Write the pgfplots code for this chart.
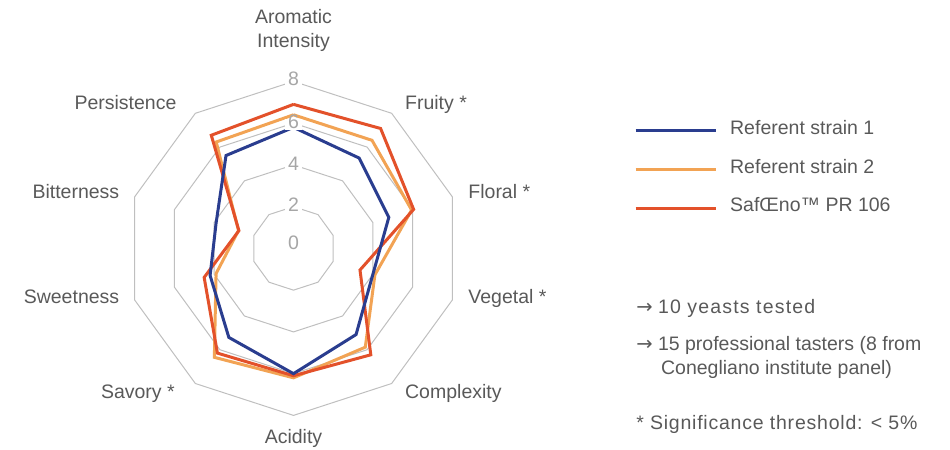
\documentclass[border=0pt]{standalone}
\usepackage{pgfplots}
\pgfplotsset{compat=1.18}
\usepackage{fontspec}
\setmainfont{Liberation Sans}
\newfontfamily\symfont{DejaVu Sans}
\definecolor{refblue}{RGB}{42,61,143}
\definecolor{reforange}{RGB}{242,163,84}
\definecolor{refred}{RGB}{227,81,42}
\definecolor{gridgrey}{RGB}{191,191,191}
\definecolor{txtgrey}{RGB}{89,89,89}
\definecolor{tickgrey}{RGB}{166,166,166}
\newcommand{\arr}{{\symfont →}}
\begin{document}
\begin{tikzpicture}[
  lbl/.style={font=\fontsize{19.5bp}{24bp}\selectfont, text=txtgrey, inner xsep=0pt, inner ysep=0pt, text height=1.38ex, text depth=0pt},
  tlbl/.style={font=\fontsize{19.5bp}{24bp}\selectfont, text=tickgrey, fill=white, inner xsep=3bp, inner ysep=2bp, text height=1.38ex, text depth=0pt},
]
\begin{axis}[
  x=20.875bp, y=20.875bp,
  xmin=-14.06, xmax=31.45, ymin=-9.61, ymax=11.90,
  hide axis, clip=false,
  legend style={at={(axis cs:16.31,5.82)}, anchor=north west, draw=none, fill=none,
    inner sep=0pt, row sep=31.5bp, column sep=13bp,
    font=\fontsize{19.5bp}{24bp}\selectfont, text=txtgrey,
    nodes={inner sep=0pt, text height=1.38ex, text depth=0pt, anchor=base west}},
  legend cell align=left,
  legend image code/.code={\draw[#1] (0bp,0.69ex) -- (80bp,0.69ex);},
]
% grid rings
\addplot[gridgrey, line width=1bp, line join=miter, data cs=polar, forget plot] coordinates {(90,2) (54,2) (18,2) (-18,2) (-54,2) (-90,2) (-126,2) (-162,2) (-198,2) (-234,2) (-270,2)};
\addplot[gridgrey, line width=1bp, line join=miter, data cs=polar, forget plot] coordinates {(90,4) (54,4) (18,4) (-18,4) (-54,4) (-90,4) (-126,4) (-162,4) (-198,4) (-234,4) (-270,4)};
\addplot[gridgrey, line width=1bp, line join=miter, data cs=polar, forget plot] coordinates {(90,6) (54,6) (18,6) (-18,6) (-54,6) (-90,6) (-126,6) (-162,6) (-198,6) (-234,6) (-270,6)};
\addplot[gridgrey, line width=1bp, line join=miter, data cs=polar, forget plot] coordinates {(90,8) (54,8) (18,8) (-18,8) (-54,8) (-90,8) (-126,8) (-162,8) (-198,8) (-234,8) (-270,8)};
% series: Aromatic, Fruity, Floral, Vegetal, Complexity, Acidity, Savory, Sweetness, Bitterness, Persistence
\addplot[reforange, line width=3bp, line join=miter, data cs=polar, forget plot] coordinates {(90,6.4) (54,6.4) (18,5.95) (-18,4.1) (-54,5.85) (-90,6.2) (-126,6.45) (-162,3.9) (-198,2.77) (-234,6.3) (-270,6.4)};
\addplot[refred, line width=3bp, line join=miter, data cs=polar, forget plot] coordinates {(90,6.9) (54,7.1) (18,6.05) (-18,3.35) (-54,6.3) (-90,6.1) (-126,6.2) (-162,4.5) (-198,2.75) (-234,6.7) (-270,6.9)};
\addplot[refblue, line width=3bp, line join=miter, data cs=polar, forget plot] coordinates {(90,5.8) (54,5.35) (18,4.8) (-18,4.0) (-54,5.1) (-90,6.0) (-126,5.27) (-162,4.2) (-198,3.9) (-234,5.5) (-270,5.8)};
\addlegendimage{refblue, line width=3bp}\addlegendentry{Referent strain 1}
\addlegendimage{reforange, line width=3bp}\addlegendentry{Referent strain 2}
\addlegendimage{refred, line width=3bp}\addlegendentry{SafŒno™ PR 106}
% tick labels
\node[tlbl] at (axis cs:0,7.96) {8};
\node[tlbl] at (axis cs:0,5.92) {6};
\node[tlbl] at (axis cs:0,3.9) {4};
\node[tlbl] at (axis cs:0,1.94) {2};
\node[tlbl] at (axis cs:0,0.12) {0};
% category labels
\node[lbl] at (axis cs:0,10.94) {Aromatic};
\node[lbl] at (axis cs:0,9.79) {Intensity};
\node[lbl, anchor=west] at (axis cs:5.34,6.84) {Fruity *};
\node[lbl, anchor=west] at (axis cs:8.37,2.58) {Floral *};
\node[lbl, anchor=west] at (axis cs:8.37,-2.45) {Vegetal *};
\node[lbl, anchor=west] at (axis cs:5.34,-7.0) {Complexity};
\node[lbl] at (axis cs:0,-9.17) {Acidity};
\node[lbl, anchor=east] at (axis cs:-5.68,-7.0) {Savory *};
\node[lbl, anchor=east] at (axis cs:-8.34,-2.48) {Sweetness};
\node[lbl, anchor=east] at (axis cs:-8.34,2.58) {Bitterness};
\node[lbl, anchor=east] at (axis cs:-5.6,6.84) {Persistence};
% notes
\node[lbl, anchor=west] at (axis cs:16.41,-2.95) {\arr\ {\addfontfeatures{LetterSpace=6}10 yeasts tested}};
\node[lbl, anchor=west] at (axis cs:16.41,-4.72) {\arr\ 15 professional tasters (8 from};
\node[lbl, anchor=west] at (axis cs:17.6,-5.87) {Conegliano institute panel)};
\node[lbl, anchor=west] at (axis cs:16.41,-8.50) {\addfontfeatures{LetterSpace=4}* Significance threshold: < 5\%};
\end{axis}
\pgfresetboundingbox
\path (current axis.south west) rectangle (current axis.north east);
\end{tikzpicture}
\end{document}
